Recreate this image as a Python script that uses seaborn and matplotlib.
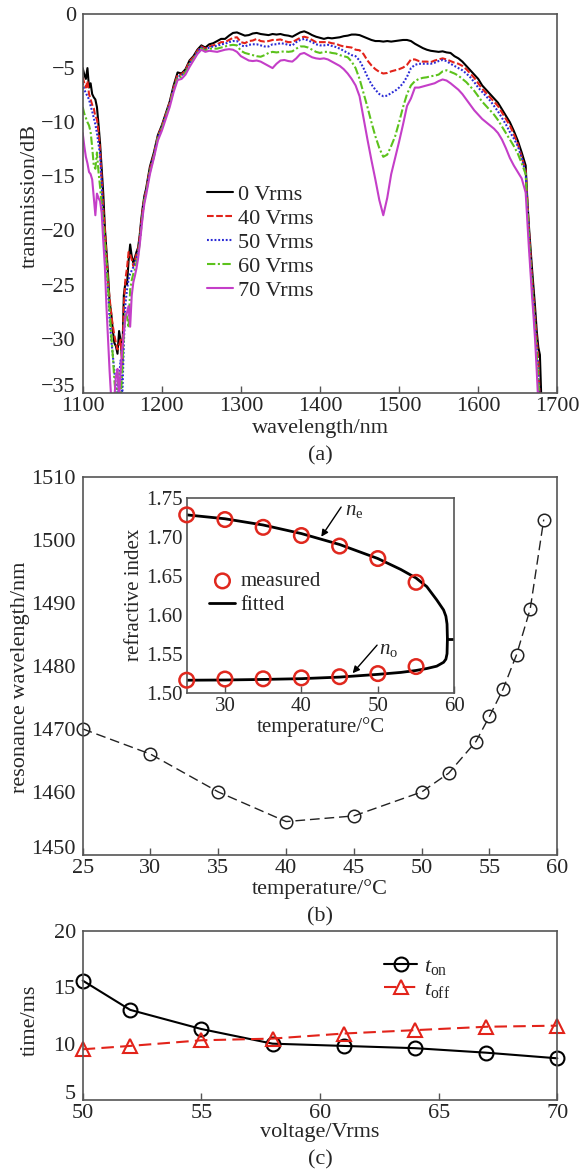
import numpy as np
import pandas as pd
import matplotlib
matplotlib.use("Agg")
import matplotlib.pyplot as plt
import matplotlib.transforms as mtransforms
import seaborn as sns

# ---------------- data ----------------
# (a) transmission spectra, dB, on a shared wavelength grid (nm)
wavelength = (list(range(1100, 1180, 2)) + list(range(1180, 1661, 5))
              + list(range(1662, 1681, 2)))

t_0v = [
    -5.0, -5.6, -6.0, -5.0, -6.8, -6.4, -7.4, -7.7, -7.9, -8.6,
    -10.2, -12.0, -14.3, -16.6, -19.7, -21.9, -24.0, -26.6, -27.6, -29.2,
    -30.4, -30.7, -31.4, -29.3, -30.2, -32.0, -26.0, -24.8, -25.0, -22.8,
    -21.3, -22.4, -23.0, -22.5, -22.0, -21.6, -20.5, -19.0, -17.8, -16.8,
    -16.2, -14.1, -12.8, -11.2, -10.3, -9.2, -8.1, -6.6, -5.4, -5.5,
    -5.1, -4.3, -3.9, -3.3, -2.9, -3.1, -2.8, -2.7, -2.5, -2.3,
    -2.3, -2.0, -1.75, -1.7, -1.85, -2.0, -1.95, -1.8, -1.75, -1.85,
    -1.9, -1.95, -1.85, -1.9, -1.85, -1.95, -2.0, -2.1, -1.9, -1.7,
    -1.6, -1.75, -1.95, -2.1, -2.2, -2.3, -2.2, -2.25, -2.2, -2.15,
    -2.05, -2.0, -1.9, -1.9, -1.95, -2.1, -2.25, -2.4, -2.5, -2.5,
    -2.55, -2.5, -2.55, -2.5, -2.45, -2.4, -2.4, -2.5, -2.75, -2.95,
    -3.15, -3.3, -3.4, -3.45, -3.5, -3.45, -3.55, -3.6, -3.9, -4.1,
    -4.4, -4.8, -5.2, -5.6, -6.0, -6.6, -7.0, -7.4, -7.8, -8.2,
    -8.8, -9.4, -10.0, -10.8, -11.7, -12.8, -14.0,
    -17.0, -19.5, -21.5, -23.5, -25.3, -27.2, -29.3, -30.8, -31.5, -36.0,
]
t_40v = [
    -5.8, -6.4, -6.8, -6.2, -7.4, -7.9, -8.4, -8.7, -9.5, -9.7,
    -11.0, -12.6, -15.4, -18.0, -20.0, -22.3, -24.8, -26.3, -27.7, -28.8,
    -29.7, -30.4, -31.0, -30.6, -30.1, -32.4, -27.0, -24.5, -23.5, -22.0,
    -22.2, -22.7, -23.3, -22.8, -22.2, -21.8, -20.7, -19.3, -18.0, -17.0,
    -16.4, -14.3, -13.0, -11.3, -10.4, -9.3, -8.2, -6.8, -5.6, -5.6,
    -5.2, -4.4, -4.0, -3.4, -3.0, -3.2, -3.0, -2.9, -2.8, -2.6,
    -2.6, -2.4, -2.2, -2.15, -2.6, -2.7, -2.5, -2.45, -2.3, -2.5,
    -2.55, -2.5, -2.4, -2.4, -2.35, -2.5, -2.6, -2.6, -2.4, -2.2,
    -2.1, -2.2, -2.4, -2.6, -2.6, -2.6, -2.6, -2.7, -2.75, -2.9,
    -3.0, -3.05, -3.1, -3.3, -3.35, -3.7, -4.3, -4.75, -5.1, -5.35,
    -5.5, -5.45, -5.3, -5.2, -5.1, -4.95, -4.7, -4.2, -4.2, -4.35,
    -4.4, -4.4, -4.45, -4.3, -4.2, -4.1, -4.2, -4.35, -4.5, -4.6,
    -4.8, -5.1, -5.5, -5.9, -6.4, -6.9, -7.3, -7.7, -8.1, -8.5,
    -9.1, -9.7, -10.3, -11.1, -12.0, -13.2, -14.5,
    -17.2, -19.8, -22.0, -24.3, -26.2, -28.2, -30.0, -32.0, -36.0, -36.0,
]
t_50v = [
    -6.4, -7.0, -7.3, -7.6, -7.9, -8.5, -9.0, -9.6, -10.2, -11.0,
    -12.0, -13.0, -15.8, -19.8, -21.5, -23.5, -25.3, -28.2, -30.0, -31.5,
    -33.0, -34.3, -35.0, -33.5, -32.0, -35.5, -30.5, -26.8, -25.5, -24.5,
    -24.0, -23.7, -23.4, -23.0, -22.6, -22.0, -21.0, -19.6, -18.2, -17.1,
    -16.5, -14.5, -13.1, -11.4, -10.5, -9.4, -8.3, -6.9, -5.8, -5.7,
    -5.3, -4.6, -4.1, -3.5, -3.1, -3.3, -3.1, -3.0, -2.95, -2.8,
    -2.75, -2.6, -2.5, -2.5, -2.9, -3.0, -2.85, -2.8, -2.8, -2.9,
    -3.0, -3.0, -2.8, -2.8, -2.7, -2.75, -2.85, -2.9, -2.6, -2.4,
    -2.3, -2.45, -2.6, -2.8, -2.9, -2.9, -2.85, -2.95, -3.05, -3.2,
    -3.4, -3.6, -3.8, -3.9, -4.3, -5.0, -5.8, -6.5, -7.0, -7.4,
    -7.6, -7.55, -7.3, -7.1, -6.8, -6.4, -5.8, -5.0, -4.7, -4.6,
    -4.6, -4.6, -4.6, -4.5, -4.35, -4.25, -4.35, -4.6, -4.8, -5.0,
    -5.2, -5.5, -5.85, -6.3, -6.8, -7.2, -7.6, -8.0, -8.5, -9.0,
    -9.6, -10.2, -10.9, -11.5, -12.2, -13.3, -14.7,
    -17.5, -20.0, -22.5, -24.8, -26.8, -28.8, -30.8, -33.0, -36.0, -36.0,
]
t_60v = [
    -8.6, -9.2, -9.6, -10.0, -10.3, -10.9, -12.3, -14.0, -14.3, -12.8,
    -14.6, -16.0, -17.6, -19.3, -21.2, -23.0, -25.2, -27.3, -29.6, -31.5,
    -33.8, -35.5, -34.5, -33.2, -35.5, -33.0, -29.5, -27.6, -28.0, -29.0,
    -25.5, -24.6, -24.0, -23.6, -23.0, -22.3, -21.2, -19.8, -18.4, -17.2,
    -16.6, -14.6, -13.2, -11.5, -10.6, -9.5, -8.4, -7.0, -5.9, -5.8,
    -5.4, -4.7, -4.2, -3.6, -3.2, -3.4, -3.2, -3.2, -3.2, -3.1,
    -3.0, -2.9, -2.85, -2.9, -3.4, -3.6, -3.7, -3.8, -3.9, -3.95,
    -3.8, -3.6, -3.5, -3.55, -3.5, -3.45, -3.5, -3.45, -3.2, -3.0,
    -3.0, -3.1, -3.3, -3.5, -3.6, -3.5, -3.5, -3.6, -3.65, -3.8,
    -3.9, -4.0, -4.4, -5.0, -6.0, -7.3, -8.6, -10.0, -11.3, -12.4,
    -13.2, -13.0, -12.2, -11.3, -10.0, -8.6, -7.4, -6.6, -6.2, -6.0,
    -5.9, -5.85, -5.75, -5.7, -5.6, -5.3, -5.2, -5.35, -5.5, -5.7,
    -6.0, -6.3, -6.7, -7.1, -7.6, -8.1, -8.5, -8.9, -9.3, -9.8,
    -10.4, -11.0, -11.6, -12.2, -12.9, -13.8, -14.8,
    -17.8, -20.5, -23.0, -25.2, -27.3, -29.3, -31.5, -34.0, -36.0, -36.0,
]
t_70v = [
    -11.0, -12.2, -13.2, -13.8, -14.6, -14.8, -15.3, -16.9, -18.6, -16.6,
    -17.0, -17.3, -18.4, -21.0, -23.3, -27.0, -30.0, -33.0, -35.5, -35.5,
    -35.5, -33.5, -32.8, -35.5, -33.0, -31.0, -29.5, -28.0, -27.6, -27.0,
    -28.9, -26.0, -24.8, -24.2, -23.5, -22.6, -21.4, -20.0, -18.6, -17.5,
    -16.8, -14.8, -13.3, -11.7, -10.8, -9.7, -8.6, -7.2, -6.1, -6.0,
    -5.6, -4.9, -4.3, -3.7, -3.3, -3.5, -3.4, -3.45, -3.5, -3.4,
    -3.3, -3.25, -3.3, -3.5, -3.9, -4.1, -4.3, -4.35, -4.3, -4.4,
    -4.6, -4.8, -5.0, -4.6, -4.3, -4.25, -4.35, -4.4, -4.1, -3.7,
    -3.6, -3.8, -4.0, -4.1, -4.15, -4.1, -4.2, -4.4, -4.6, -4.8,
    -5.1, -5.5, -6.0, -6.6, -7.6, -9.6, -11.6, -13.5, -15.3, -17.2,
    -18.6, -17.0, -14.8, -13.3, -11.8, -10.2, -8.5, -7.8, -6.8, -6.8,
    -6.7, -6.6, -6.5, -6.4, -6.2, -6.05, -6.15, -6.4, -6.7, -7.0,
    -7.4, -7.9, -8.4, -8.9, -9.3, -9.7, -10.0, -10.3, -10.6, -11.0,
    -11.6, -12.4, -13.3, -14.0, -14.6, -15.2, -16.5,
    -19.0, -21.5, -23.8, -26.0, -28.0, -30.2, -33.0, -36.0, -36.0, -36.0,
]
voltage_labels = ["0 Vrms", "40 Vrms", "50 Vrms", "60 Vrms", "70 Vrms"]

# (b) resonance wavelength versus temperature
temp_b = [25, 30, 35, 40, 45, 50, 52, 54, 55, 56, 57, 58, 59]
res_wl = [1470.0, 1466.0, 1460.0, 1455.3, 1456.2, 1460.0, 1463.0,
          1468.0, 1472.0, 1476.3, 1481.8, 1489.0, 1503.2]

# (b) inset: refractive indices
temp_meas = [25, 30, 35, 40, 45, 50, 55]
ne_meas = [1.728, 1.722, 1.712, 1.7015, 1.688, 1.672, 1.6415]
no_meas = [1.516, 1.5175, 1.5178, 1.519, 1.5205, 1.5245, 1.5335]
temp_fit = [25, 30, 35, 40, 45, 50, 53, 55, 56.4, 57.7, 58.6, 58.9, 59.05, 59.1]
ne_fit = [1.728, 1.723, 1.715, 1.704, 1.690, 1.672, 1.658, 1.647, 1.636,
          1.619, 1.606, 1.598, 1.588, 1.569]
no_fit = [1.516, 1.5163, 1.517, 1.518, 1.520, 1.5235, 1.526, 1.5285, 1.531,
          1.534, 1.539, 1.543, 1.550, 1.569]
temp_tail = [59.1, 60.0]
n_tail = [1.569, 1.569]

# (c) switching times versus voltage
volt = [50, 52, 55, 58, 61, 64, 67, 70]
t_on = [15.6, 13.0, 11.3, 10.0, 9.8, 9.6, 9.2, 8.7]
t_off = [9.5, 9.8, 10.3, 10.45, 10.9, 11.2, 11.5, 11.6]

# ---------------- style ----------------
sns.set_theme(style="ticks")
plt.rcParams["font.family"] = ["Liberation Serif", "DejaVu Serif"]
plt.rcParams["mathtext.fontset"] = "custom"
plt.rcParams["mathtext.rm"] = "Liberation Serif"
plt.rcParams["mathtext.it"] = "Liberation Serif:italic"
FS = 16
FS_IN = 15
SPINE = "#555555"

W, H = 579, 1170
fig = plt.figure(figsize=(W / 100, H / 100), dpi=100)


def box(px_left, px_top, px_right, px_bottom):
    return [px_left / W, 1 - px_bottom / H, (px_right - px_left) / W,
            (px_bottom - px_top) / H]


def style_axes(ax, fs=FS, ypad=5):
    for s in ax.spines.values():
        s.set_color(SPINE)
        s.set_linewidth(1.2)
        s.set_visible(True)
    ax.tick_params(axis="x", direction="in", length=5, width=1.0,
                   color=SPINE, labelsize=fs, pad=3, top=False)
    ax.tick_params(axis="y", direction="in", length=0, labelsize=fs,
                   pad=ypad, right=False)
    ax.grid(False)
    ax.set_facecolor("white")


def lift_lowest_ylabel(ax):
    # the bottom y tick label sits just above the corner
    lbl = ax.get_yticklabels()[0]
    lbl.set_verticalalignment("baseline")
    lbl.set_transform(lbl.get_transform()
                      + mtransforms.ScaledTranslation(0, 1 / 100,
                                                      fig.dpi_scale_trans))


# ---------------- (a) ----------------
ax_a = fig.add_axes(box(82.7, 14, 557.3, 392.7))
series = [t_0v, t_40v, t_50v, t_60v, t_70v]
colors = ["#000000", "#e2231a", "#2b2bd6", "#5cc21c", "#c43ec8"]
styles = ["-", (0, (3.2, 1.2)), (0, (0.9, 0.9)), (0, (4, 1.2, 1, 1.2)), "-"]
for vals, col, ls, lab in zip(series, colors, styles, voltage_labels):
    sns.lineplot(x=wavelength, y=vals, ax=ax_a, color=col, linestyle=ls,
                 linewidth=1.5, label=lab, estimator=None, sort=False)
ax_a.set_xlim(1100, 1700)
ax_a.set_ylim(-35, 0)
ax_a.set_xticks(range(1100, 1701, 100))
ax_a.set_yticks(range(-35, 1, 5))
style_axes(ax_a)
lift_lowest_ylabel(ax_a)
ax_a.set_xlabel("wavelength/nm", fontsize=FS, labelpad=2)
ax_a.set_ylabel("transmission/dB", fontsize=FS)
ax_a.yaxis.set_label_coords(-0.09, 0.52)
ax_a.legend(loc="upper left", bbox_to_anchor=(0.262, 0.55), frameon=False,
            fontsize=FS, handlelength=1.15, handletextpad=0.25,
            labelspacing=0.15, borderpad=0, borderaxespad=0)
fig.text(320 / W, 1 - 456 / H, "(a)", ha="center", va="center", fontsize=FS)

# ---------------- (b) ----------------
ax_b = fig.add_axes(box(82.7, 476.7, 557.3, 855))
sns.lineplot(x=temp_b, y=res_wl, ax=ax_b, color="#222222", linewidth=1.0,
             estimator=None, sort=False, marker="o", markersize=9,
             markerfacecolor="none", markeredgecolor="#222222",
             markeredgewidth=1.1)
ax_b.lines[-1].set_dashes([7, 3.5])
ax_b.set_xlim(25, 60)
ax_b.set_ylim(1450, 1510)
ax_b.set_xticks(range(25, 61, 5))
ax_b.set_yticks(range(1450, 1511, 10))
style_axes(ax_b)
lift_lowest_ylabel(ax_b)
ax_b.set_xlabel("temperature/\u00b0C", fontsize=FS, labelpad=1)
ax_b.set_ylabel("resonance wavelength/nm", fontsize=FS)
ax_b.yaxis.set_label_coords(-0.112, 0.47)
for ln in ax_b.lines:
    ln.set_clip_on(False)
fig.text(320 / W, 1 - 917 / H, "(b)", ha="center", va="center", fontsize=FS)

# inset
ax_i = fig.add_axes(box(186.7, 497.7, 454.3, 692.7))
sns.lineplot(x=temp_fit, y=ne_fit, ax=ax_i, color="black", linewidth=2.0,
             estimator=None, sort=False, label="fitted")
sns.lineplot(x=temp_fit, y=no_fit, ax=ax_i, color="black", linewidth=2.0,
             estimator=None, sort=False)
sns.lineplot(x=temp_tail, y=n_tail, ax=ax_i, color="black", linewidth=2.0,
             estimator=None, sort=False)
meas = pd.DataFrame({"T": temp_meas + temp_meas, "n": ne_meas + no_meas})
sns.scatterplot(data=meas, x="T", y="n", ax=ax_i, marker="o", s=110,
                facecolors="none", edgecolor="#e0281e", linewidth=1.8,
                label="measured", zorder=5, clip_on=False)
ax_i.set_xlim(25, 60)
ax_i.set_ylim(1.50, 1.75)
ax_i.set_xticks([30, 40, 50, 60])
ax_i.set_yticks([1.50, 1.55, 1.60, 1.65, 1.70, 1.75])
ax_i.set_yticklabels(["1.50", "1.55", "1.60", "1.65", "1.70", "1.75"])
style_axes(ax_i, fs=FS_IN, ypad=3)
ax_i.set_xlabel("temperature/\u00b0C", fontsize=FS_IN, labelpad=1)
ax_i.set_ylabel("refractive index", fontsize=FS_IN)
ax_i.yaxis.set_label_coords(-0.16, 0.5)
h, l = ax_i.get_legend_handles_labels()
order = [l.index("measured"), l.index("fitted")]
ax_i.legend([h[i] for i in order], [l[i] for i in order], loc="upper left",
            bbox_to_anchor=(0.085, 0.62), frameon=False, fontsize=FS_IN,
            handlelength=1.25, handletextpad=0.25, labelspacing=0.2,
            borderpad=0, borderaxespad=0)
ax_i.annotate("", xy=(42.6, 1.700), xytext=(45.2, 1.738),
              arrowprops=dict(arrowstyle="-|>", color="black", lw=1.0,
                              mutation_scale=10, shrinkA=0, shrinkB=0))
ax_i.text(45.7, 1.733, r"$n_\mathrm{e}$", fontsize=FS_IN, ha="left",
          va="center")
ax_i.annotate("", xy=(46.7, 1.525), xytext=(49.9, 1.561),
              arrowprops=dict(arrowstyle="-|>", color="black", lw=1.0,
                              mutation_scale=10, shrinkA=0, shrinkB=0))
ax_i.text(50.2, 1.556, r"$n_\mathrm{o}$", fontsize=FS_IN, ha="left",
          va="center")

# ---------------- (c) ----------------
ax_c = fig.add_axes(box(82.7, 931, 557.3, 1100))
sns.lineplot(x=volt, y=t_on, ax=ax_c, color="black", linewidth=1.5,
             estimator=None, sort=False, marker="o", markersize=10,
             markerfacecolor="none", markeredgecolor="black",
             markeredgewidth=1.5, label=r"$t_\mathrm{on}$")
sns.lineplot(x=volt, y=t_off, ax=ax_c, color="#e2231a", linewidth=1.5,
             estimator=None, sort=False, marker="^", markersize=10,
             markerfacecolor="none", markeredgecolor="#e2231a",
             markeredgewidth=1.5, label=r"$t_\mathrm{off}$")
ax_c.lines[-1].set_dashes([6, 3])
ax_c.set_xlim(50, 70)
ax_c.set_ylim(5, 20)
ax_c.set_xticks(range(50, 71, 5))
ax_c.set_yticks(range(5, 21, 5))
style_axes(ax_c)
lift_lowest_ylabel(ax_c)
for ln in ax_c.lines:
    ln.set_clip_on(False)
ax_c.set_xlabel("voltage/Vrms", fontsize=FS, labelpad=0)
ax_c.set_ylabel("time/ms", fontsize=FS)
ax_c.yaxis.set_label_coords(-0.09, 0.47)
ax_c.legend(loc="upper left", bbox_to_anchor=(0.635, 0.85), frameon=False,
            fontsize=FS, handlelength=1.5, handletextpad=0.3,
            labelspacing=0.1, borderpad=0, borderaxespad=0)
fig.text(320 / W, 1 - 1160 / H, "(c)", ha="center", va="center", fontsize=FS)

fig.savefig("out.png", dpi=100, facecolor="white")
